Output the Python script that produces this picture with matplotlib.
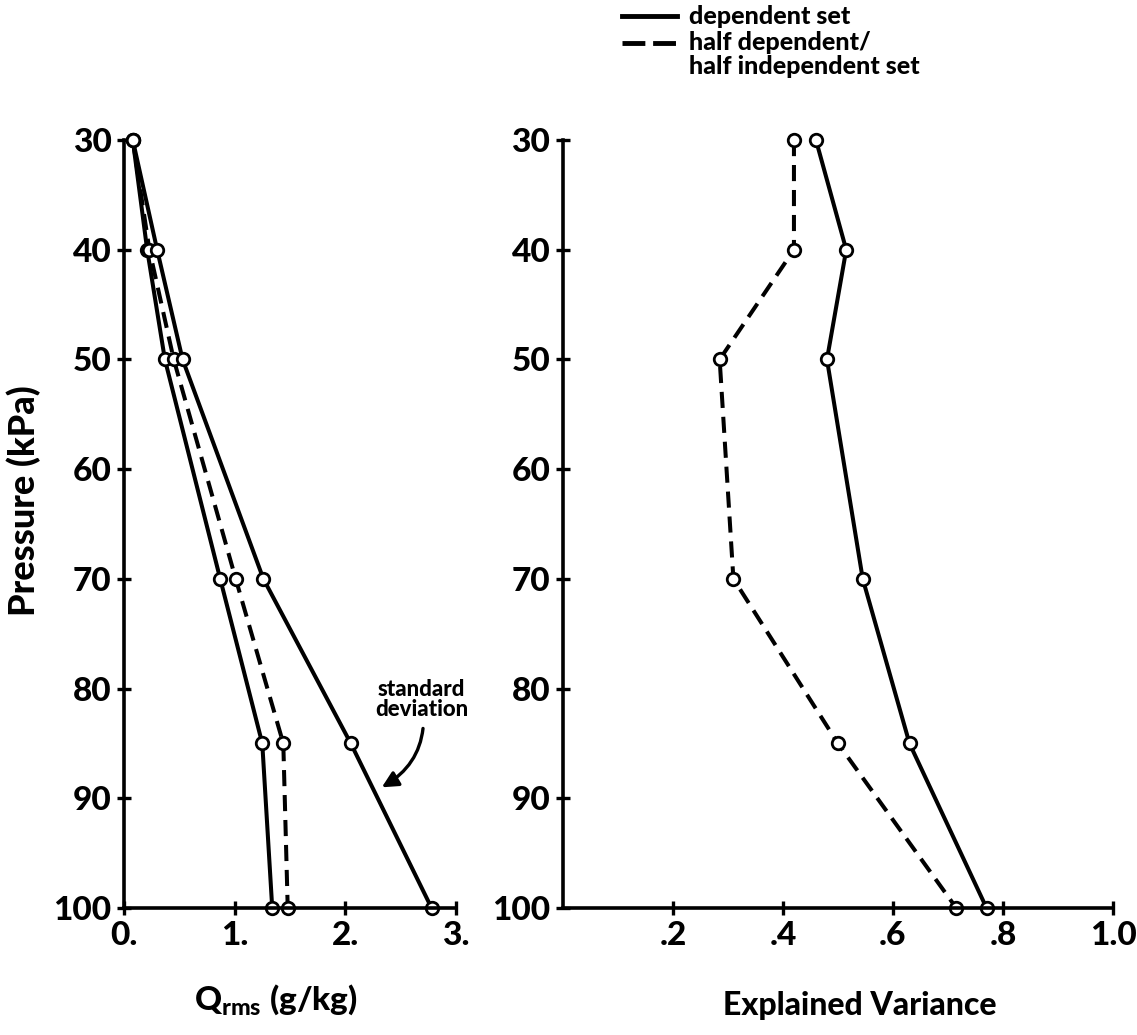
import matplotlib
matplotlib.use('Agg')
import matplotlib.pyplot as plt
from matplotlib.lines import Line2D

plt.rcParams['font.family'] = ['Lato', 'DejaVu Sans']
plt.rcParams['font.weight'] = 'black'
plt.rcParams['axes.labelweight'] = 'black'
plt.rcParams['mathtext.fontset'] = 'custom'
plt.rcParams['mathtext.rm'] = 'Lato:black'
plt.rcParams['mathtext.it'] = 'Lato:black'
plt.rcParams['mathtext.bf'] = 'Lato:black'

# pressure levels (kPa)
pressure = [30, 40, 50, 70, 85, 100]

# Q rms (g/kg)
qrms_dep = [0.08, 0.21, 0.37, 0.87, 1.25, 1.34]
qrms_half = [0.08, 0.23, 0.45, 1.01, 1.44, 1.48]
q_std = [0.08, 0.30, 0.53, 1.26, 2.05, 2.78]

# explained variance
ev_dep = [0.46, 0.515, 0.48, 0.545, 0.63, 0.77]
ev_half = [0.42, 0.42, 0.285, 0.31, 0.50, 0.715]

p_ticks = [30, 40, 50, 60, 70, 80, 90, 100]
q_ticks = [0, 1, 2, 3]
q_labels = ['0.', '1.', '2.', '3.']
ev_ticks = [0.2, 0.4, 0.6, 0.8, 1.0]
ev_labels = ['.2', '.4', '.6', '.8', '1.0']

LW = 2.9
mk = dict(marker='o', markersize=9, markerfacecolor='white',
          markeredgecolor='black', markeredgewidth=2.0, clip_on=False)
dash = (0, (4.0, 2.2))

fig = plt.figure(figsize=(11.37, 10.35), dpi=100)
ax1 = fig.add_axes([0.109, 0.1227, 0.292, 0.742])
ax2 = fig.add_axes([0.495, 0.1227, 0.484, 0.742])


def style(ax, xticks, xlabels, xmax):
    ax.set_ylim(100, 30)
    ax.set_xlim(0, xmax)
    for s in ['top', 'right']:
        ax.spines[s].set_visible(False)
    for s in ['left', 'bottom']:
        ax.spines[s].set_linewidth(2.6)
        ax.spines[s].set_zorder(4)
    ax.set_yticks(p_ticks)
    ax.set_yticklabels([str(t) for t in p_ticks])
    ax.set_xticks(xticks)
    ax.set_xticklabels(xlabels)
    ax.tick_params(direction='inout', length=10, width=2.4, labelsize=24, pad=4)


ax1.plot(qrms_dep, pressure, color='black', lw=LW, zorder=3, **mk)
ax1.plot(qrms_half, pressure, color='black', lw=LW, linestyle=dash, zorder=3, **mk)
ax1.plot(q_std, pressure, color='black', lw=LW, zorder=3, **mk)
style(ax1, q_ticks, q_labels, 3.0)
ax1.set_ylabel('Pressure (kPa)', fontsize=26, fontweight='black')
ax1.yaxis.set_label_coords(-0.25, 0.53)

ax1.annotate('standard\ndeviation', xy=(2.33, 89.0), xytext=(2.69, 81.0),
             ha='center', va='center', fontsize=16, linespacing=0.95,
             arrowprops=dict(arrowstyle='-|>', color='black', lw=2.4,
                             mutation_scale=24, shrinkA=4, shrinkB=0,
                             connectionstyle='arc3,rad=-0.35'))

ax2.plot(ev_dep, pressure, color='black', lw=LW, zorder=3, **mk)
ax2.plot(ev_half, pressure, color='black', lw=LW, linestyle=dash, zorder=3, **mk)
style(ax2, ev_ticks, ev_labels, 1.0)

fig.text(276 / 1137, 1 - 1000 / 1035, r'Q$_{\mathrm{rms}}$ (g/kg)',
         ha='center', va='center', fontsize=24)
fig.text(860 / 1137, 1 - 1005 / 1035, 'Explained Variance',
         ha='center', va='center', fontsize=23)

# legend in the top strip
x0, x1, xt = 622 / 1137, 677 / 1137, 689 / 1137
y_solid, y_dash, y_cont = 1 - 16 / 1035, 1 - 43 / 1035, 1 - 67 / 1035
fig.add_artist(Line2D([x0, x1], [y_solid, y_solid], color='black', lw=3.5,
                      transform=fig.transFigure))
fig.add_artist(Line2D([x0, x1], [y_dash, y_dash], color='black', lw=3.5,
                      linestyle=(0, (4.7, 1.6)), transform=fig.transFigure))
fig.text(xt, y_solid, 'dependent set', ha='left', va='center', fontsize=18)
fig.text(xt, y_dash, 'half dependent/', ha='left', va='center', fontsize=18)
fig.text(xt, y_cont, 'half independent set', ha='left', va='center', fontsize=18)

fig.savefig('out.png', dpi=100, facecolor='white')
